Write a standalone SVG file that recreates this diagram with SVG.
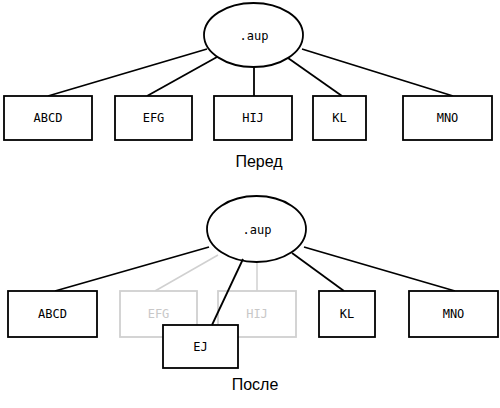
<svg xmlns="http://www.w3.org/2000/svg" width="500" height="408" viewBox="0 0 500 408">
<style>
.n{fill:#fff;stroke:#000;stroke-width:1.8}
.g{fill:#fff;stroke:#d0d0d0;stroke-width:1.8}
.t{font-family:"DejaVu Sans Mono",monospace;font-size:12px;text-anchor:middle;fill:#000}
.tg{font-family:"DejaVu Sans Mono",monospace;font-size:12px;text-anchor:middle;fill:#c8c8c8}
.c{stroke:#000;stroke-width:1.8;fill:none}
.cg{stroke:#d0d0d0;stroke-width:1.5;fill:none}
.cap{font-family:"Liberation Sans",Arial,sans-serif;font-size:16px;text-anchor:middle;fill:#000}
</style>
<g id="connectors">
<line class="c" x1="48" y1="96" x2="207" y2="49"/>
<line class="c" x1="147" y1="96" x2="217" y2="57"/>
<line class="c" x1="254" y1="96" x2="254" y2="67"/>
<line class="c" x1="342" y1="96" x2="288" y2="58"/>
<line class="c" x1="453" y1="96" x2="302" y2="49"/>
<line class="c" x1="55" y1="291" x2="209" y2="247"/>
<line class="cg" x1="155" y1="291" x2="218" y2="255"/>
<line class="cg" x1="257" y1="291" x2="257" y2="262"/>
<line class="c" x1="344" y1="291" x2="292" y2="253"/>
<line class="c" x1="455" y1="291" x2="304" y2="247"/>
</g>
<g id="root1"><ellipse class="n" cx="253.5" cy="35" rx="49.5" ry="32"/><text class="t" x="254" y="40" font-size="13">.aup</text></g>
<g id="abcd1"><rect class="n" x="4" y="96" width="88" height="44"/><text class="t" x="48" y="122">ABCD</text></g>
<g id="efg1"><rect class="n" x="115" y="96" width="77" height="44"/><text class="t" x="153.5" y="122">EFG</text></g>
<g id="hij1"><rect class="n" x="214" y="96" width="78" height="44"/><text class="t" x="253" y="122">HIJ</text></g>
<g id="kl1"><rect class="n" x="313" y="96" width="53" height="44"/><text class="t" x="339.5" y="122">KL</text></g>
<g id="mno1"><rect class="n" x="403" y="96" width="89" height="44"/><text class="t" x="447.5" y="122">MNO</text></g>
<text class="cap" x="259" y="167">Перед</text>
<g id="root2"><ellipse class="n" cx="256.5" cy="229" rx="49.5" ry="33"/><text class="t" x="257" y="234" font-size="13">.aup</text></g>
<g id="abcd2"><rect class="n" x="8" y="291" width="89" height="46"/><text class="t" x="52.5" y="318">ABCD</text></g>
<g id="efg2"><rect class="g" x="120" y="291" width="77" height="46"/><text class="tg" x="158.5" y="318">EFG</text></g>
<g id="hij2"><rect class="g" x="218" y="291" width="78" height="46"/><text class="tg" x="257" y="318">HIJ</text></g>
<g id="kl2"><rect class="n" x="319" y="291" width="56" height="46"/><text class="t" x="347" y="318">KL</text></g>
<g id="mno2"><rect class="n" x="409" y="291" width="89" height="46"/><text class="t" x="453.5" y="318">MNO</text></g>
<g id="ej"><rect class="n" x="163" y="325" width="75" height="43"/><text class="t" x="200.5" y="351">EJ</text></g>
<g id="connectors2"><line class="c" x1="212" y1="325" x2="243" y2="259"/></g>
<text class="cap" x="255" y="390">После</text>
</svg>
